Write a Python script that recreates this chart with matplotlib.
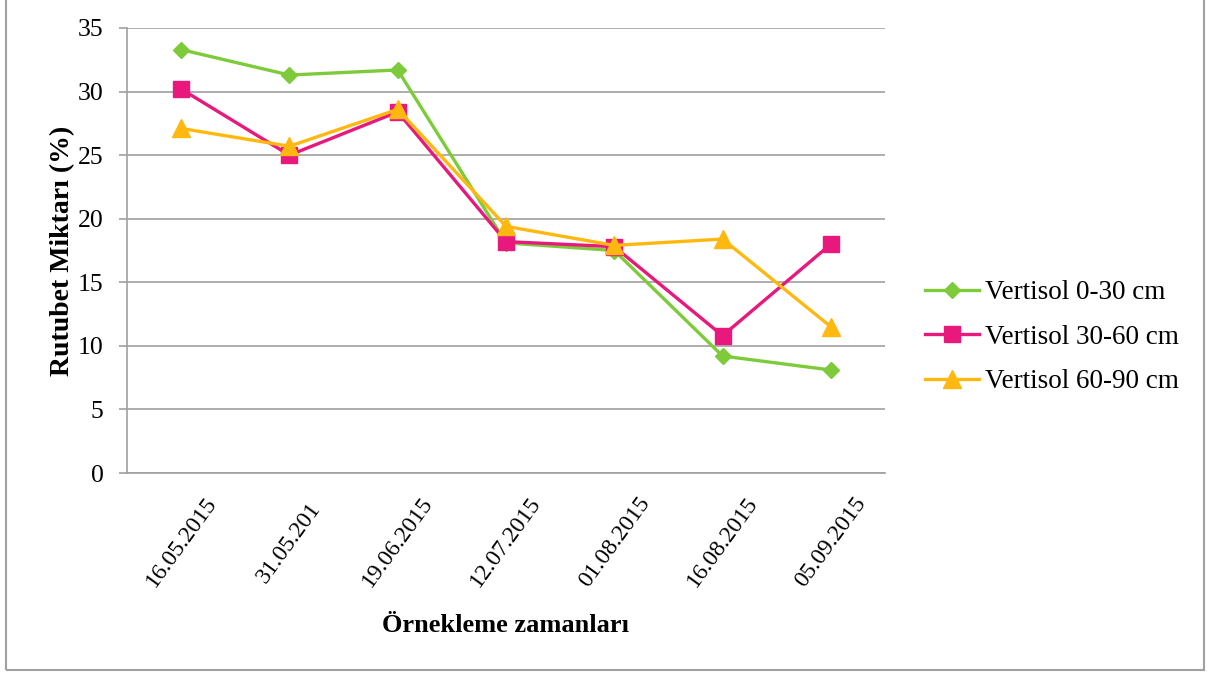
import matplotlib.pyplot as plt
from matplotlib.patches import Rectangle

# Sampling dates and soil moisture (%) per depth
dates = ['16.05.2015', '31.05.201', '19.06.2015', '12.07.2015',
         '01.08.2015', '16.08.2015', '05.09.2015']
v_0_30 = [33.3, 31.3, 31.7, 18.1, 17.5, 9.2, 8.1]
v_30_60 = [30.2, 25.0, 28.4, 18.2, 17.8, 10.8, 18.0]
v_60_90 = [27.1, 25.7, 28.6, 19.4, 17.9, 18.4, 11.5]
yticks = [0, 5, 10, 15, 20, 25, 30, 35]

plt.rcParams['font.family'] = ['Liberation Serif', 'DejaVu Serif']

fig = plt.figure(figsize=(12.11, 6.77), dpi=100)
ax = fig.add_axes([127 / 1211, 1 - 473 / 677, 758 / 1211, 445 / 677])

x = range(len(dates))
ax.plot(x, v_0_30, color='#7DCB3A', lw=2.4, marker='D', ms=8.5, label='Vertisol 0-30 cm')
ax.plot(x, v_30_60, color='#E8187D', lw=2.4, marker='s', ms=11.5, label='Vertisol 30-60 cm')
ax.plot(x, v_60_90, color='#FFB80F', lw=2.4, marker='^', ms=12.5, label='Vertisol 60-90 cm')

ax.set_xlim(-0.5, len(dates) - 0.5)
ax.set_ylim(0, 35)
ax.set_yticks(yticks)
ax.set_xticks(list(x))
ax.set_xticklabels(dates, rotation=54, ha='center', va='center',
                   rotation_mode='anchor', fontsize=17)
ax.tick_params(axis='y', labelsize=18.5, length=6, color='#A0A0A0', width=1.2, pad=11)
ax.tick_params(axis='x', length=0, pad=50)

ax.grid(axis='y', color='#A0A0A0', lw=1.2)
ax.set_axisbelow(True)
for side in ['top', 'right']:
    ax.spines[side].set_visible(False)
for side in ['left', 'bottom']:
    ax.spines[side].set_color('#A0A0A0')
    ax.spines[side].set_linewidth(1.2)

ax.set_ylabel('Rutubet Miktarı (%)', fontsize=20, fontweight='bold', labelpad=2)
ax.set_xlabel('Örnekleme zamanları', fontsize=19, fontweight='bold', labelpad=16)

ax.legend(loc='center left', bbox_to_anchor=(1.02, 0.305), frameon=False,
          fontsize=19.5, handlelength=2.0, labelspacing=0.72, handletextpad=0.22)

# outer chart frame
fig.patches.append(Rectangle((6 / 1211, 1 - 670 / 677), 1198 / 1211, 670 / 677 + 0.01,
                             transform=fig.transFigure, fill=False,
                             edgecolor='#A0A0A0', lw=1.5))

fig.savefig('out.png', dpi=100)
